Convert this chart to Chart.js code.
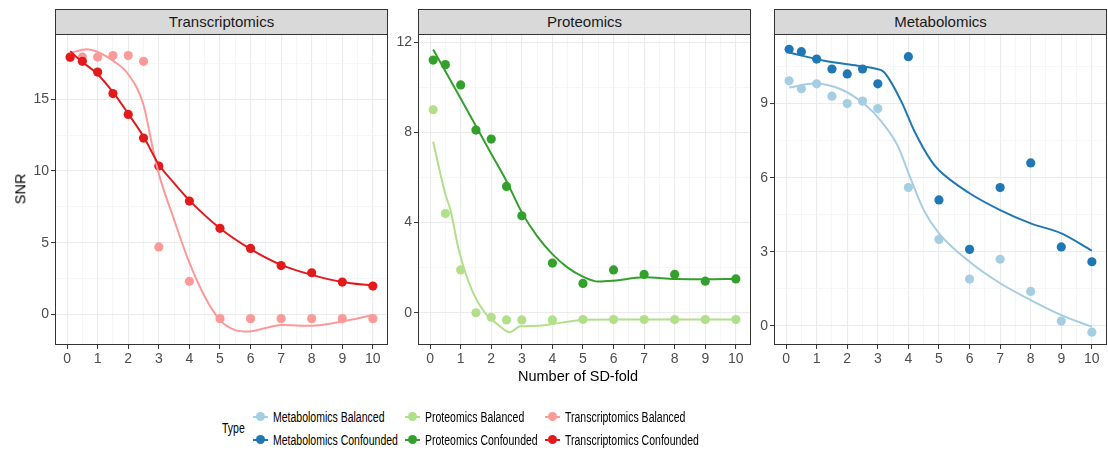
<!DOCTYPE html>
<html lang="en">
<head>
  <meta charset="UTF-8">
  <title>SNR by SD-fold</title>
  <script src="https://cdn.jsdelivr.net/npm/chart.js"></script>
  <style>
    body {
      margin: 0;
      width: 1108px;
      height: 450px;
      overflow: hidden;
      background: #fff;
      position: relative;
      font-family: "Liberation Sans", Arial, sans-serif;
    }
    canvas { position: absolute; }
    .strip {
      position: absolute;
      top: 9px;
      width: 333px;
      height: 26px;
      box-sizing: border-box;
      background: #D9D9D9;
      border: 1px solid #333;
      color: #1A1A1A;
      font-size: 15px;
      line-height: 24px;
      text-align: center;
    }
    .axis-title {
      position: absolute;
      color: #000;
      font-size: 14.5px;
      font-weight: normal;
      white-space: nowrap;
    }
    .legend {
      position: absolute;
      left: 0;
      top: 0;
      font-size: 14px;
      color: #000;
    }
    .legend .item {
      position: absolute;
      white-space: nowrap;
      line-height: 16px;
    }
    .legend .txt {
      display: inline-block;
      transform: scaleX(0.75);
      transform-origin: left center;
    }
    .legend .key {
      position: absolute;
      left: -20px;
      top: 7px;
      width: 15px;
      height: 2px;
    }
    .legend .key::after {
      content: "";
      position: absolute;
      left: 3px;
      top: -4px;
      width: 9px;
      height: 9px;
      border-radius: 50%;
      background: inherit;
    }
  </style>
</head>
<body>
  <div class="strip" style="left:55px">Transcriptomics</div>
  <div class="strip" style="left:418px">Proteomics</div>
  <div class="strip" style="left:774px">Metabolomics</div>

  <canvas id="panelT" width="388" height="351" style="left:10px; top:24px"></canvas>
  <canvas id="panelP" width="388" height="351" style="left:373px; top:24px"></canvas>
  <canvas id="panelM" width="388" height="351" style="left:729px; top:24px"></canvas>

  <div class="axis-title" style="left:5px; top:181px; transform: rotate(-90deg); transform-origin: center;">SNR</div>
  <div class="axis-title" style="left:518px; top:368px;">Number of SD-fold</div>

  <div class="legend" id="legend">
    <div class="item" style="left:222px; top:420px;"><span class="txt">Type</span></div>
  </div>

  <script>
    // points (x = SD-fold)
    const sdFold = [0.1, 0.5, 1, 1.5, 2, 2.5, 3, 4, 5, 6, 7, 8, 9, 10];

    const transBalanced   = [17.9, 17.95, 17.95, 18.05, 18.05, 17.65, 4.7, 2.3, -0.3, -0.3, -0.3, -0.3, -0.3, -0.3];
    const transConfounded = [17.95, 17.65, 16.9, 15.4, 13.95, 12.3, 10.35, 7.9, 6.0, 4.6, 3.4, 2.9, 2.25, 1.97];
    const protBalanced    = [9.0, 4.4, 1.9, 0.0, -0.2, -0.32, -0.32, -0.32, -0.3, -0.3, -0.3, -0.3, -0.3, -0.3];
    const protConfounded  = [11.2, 11.0, 10.1, 8.1, 7.7, 5.6, 4.3, 2.2, 1.3, 1.9, 1.7, 1.7, 1.4, 1.5];
    const metaBalanced    = [9.92, 9.6, 9.8, 9.3, 9.0, 9.1, 8.8, 5.6, 3.5, 1.9, 2.7, 1.4, 0.2, -0.25];
    const metaConfounded  = [11.2, 11.1, 10.8, 10.4, 10.2, 10.4, 9.8, 10.9, 5.1, 3.1, 5.6, 6.6, 3.2, 2.6];

    // smoothed curves
    const transBalSmoothX = [0.1, 0.65, 1, 1.5, 2, 2.5, 2.8, 3, 3.5, 4, 4.5, 5, 5.5, 5.9, 6.5, 7, 8, 9, 10];
    const transBalSmoothY = [18.25, 18.49, 18.3, 17.7, 16.75, 14.6, 11.6, 9.8, 6.6, 3.6, 1.25, -0.4, -1.1, -1.2, -0.95, -0.75, -0.8, -0.5, -0.05];
    const transConSmoothX = [0.1, 0.5, 1, 1.5, 2, 2.5, 3, 3.5, 4, 5, 6, 7, 8, 9, 10];
    const transConSmoothY = [18.35, 17.6, 16.75, 15.5, 14.0, 12.4, 10.45, 9.15, 7.95, 6.0, 4.55, 3.45, 2.75, 2.25, 2.0];

    const protBalSmoothX = [0.1, 0.5, 0.67, 0.94, 1.37, 1.81, 2.24, 2.6, 2.95, 3.5, 4, 5, 6, 7, 8, 9, 10];
    const protBalSmoothY = [7.58, 5.25, 4.54, 2.77, 1.0, -0.03, -0.54, -0.86, -0.6, -0.58, -0.5, -0.32, -0.3, -0.3, -0.3, -0.3, -0.3];
    const protConSmoothX = [0.1, 1, 2, 2.5, 3, 3.5, 4, 4.5, 5, 5.5, 6, 7, 8, 9, 10];
    const protConSmoothY = [11.67, 9.5, 7.05, 5.83, 4.45, 3.4, 2.6, 2.0, 1.6, 1.38, 1.42, 1.57, 1.5, 1.48, 1.5];

    const metaBalSmoothX = [0.1, 0.93, 1.79, 2.56, 3.1, 3.65, 4.0, 4.5, 5, 6, 7, 8, 9, 10];
    const metaBalSmoothY = [9.65, 9.81, 9.58, 8.98, 8.3, 7.3, 6.2, 4.7, 3.75, 2.6, 1.73, 1.05, 0.44, -0.03];
    const metaConSmoothX = [0.1, 1.25, 2.34, 2.9, 3.2, 3.76, 4.19, 4.74, 5, 6, 7, 8, 9, 10];
    const metaConSmoothY = [11.07, 10.73, 10.53, 10.42, 10.28, 9.11, 7.9, 6.69, 6.3, 5.37, 4.69, 4.15, 3.75, 3.05];

    // ticks
    const xMajor = [0, 1, 2, 3, 4, 5, 6, 7, 8, 9, 10];
    const xMinor = [0.5, 1.5, 2.5, 3.5, 4.5, 5.5, 6.5, 7.5, 8.5, 9.5];
    const yMajorT = [0, 5, 10, 15];
    const yMinorT = [2.5, 7.5, 12.5, 17.5];
    const yMajorP = [0, 4, 8, 12];
    const yMinorP = [2, 6, 10];
    const yMajorM = [0, 3, 6, 9];
    const yMinorM = [1.5, 4.5, 7.5, 10.5];

    const legendLabels = ["Metabolomics Balanced", "Metabolomics Confounded", "Proteomics Balanced",
                          "Proteomics Confounded", "Transcriptomics Balanced", "Transcriptomics Confounded"];
    const legendColors = ["#A6CEE3", "#1F78B4", "#B2DF8A", "#33A02C", "#FB9A99", "#E31A1C"];

    const tickFont = { family: "'Liberation Sans', Arial, sans-serif", size: 14 };

    const panelBorder = {
      id: 'panelBorder',
      afterDraw(chart) {
        const { ctx, chartArea: a } = chart;
        ctx.save();
        ctx.strokeStyle = '#333333';
        ctx.lineWidth = 1;
        ctx.strokeRect(Math.round(a.left) + 0.5, Math.round(a.top) + 0.5,
                       Math.round(a.right - a.left) - 1, Math.round(a.bottom - a.top) - 1);
        ctx.restore();
      }
    };

    function pts(xs, ys) {
      return xs.map((x, i) => ({ x: x, y: ys[i] }));
    }

    function axis(major, minor, min, max, isX) {
      const all = major.concat(minor).sort((a, b) => a - b);
      const isMaj = c => c.tick && major.includes(c.tick.value);
      return {
        type: 'linear',
        min: min,
        max: max,
        afterBuildTicks: s => { s.ticks = all.map(v => ({ value: v })); },
        afterFit: s => { if (isX) s.height = 30; else s.width = 45; },
        border: { display: false },
        grid: {
          color: c => isMaj(c) ? '#EBEBEB' : '#F4F4F4',
          lineWidth: c => isMaj(c) ? 1.1 : 0.8,
          tickColor: c => isMaj(c) ? '#333333' : 'rgba(0,0,0,0)',
          tickLength: 4,
          tickWidth: 1
        },
        ticks: {
          autoSkip: false,
          maxRotation: 0,
          padding: 2,
          color: '#4D4D4D',
          font: tickFont,
          callback: v => major.includes(v) ? String(v) : ''
        }
      };
    }

    function makePanel(id, balX, balY, conX, conY, balPts, conPts, colBal, colCon, yMin, yMax, yMaj, yMin2) {
      new Chart(document.getElementById(id), {
        type: 'line',
        data: {
          datasets: [
            { data: pts(conX, conY), borderColor: colCon, borderWidth: 2, pointRadius: 0,
              cubicInterpolationMode: 'monotone', fill: false },
            { data: pts(balX, balY), borderColor: colBal, borderWidth: 2, pointRadius: 0,
              cubicInterpolationMode: 'monotone', fill: false },
            { data: pts(sdFold, conPts), showLine: false, pointRadius: 4.6, pointBorderWidth: 0,
              pointBackgroundColor: colCon, borderColor: colCon },
            { data: pts(sdFold, balPts), showLine: false, pointRadius: 4.6, pointBorderWidth: 0,
              pointBackgroundColor: colBal, borderColor: colBal }
          ]
        },
        options: {
          responsive: false,
          animation: false,
          devicePixelRatio: 1,
          layout: { padding: { top: 10, right: 10, left: 0, bottom: 0 } },
          plugins: { legend: { display: false }, tooltip: { enabled: false } },
          scales: {
            x: axis(xMajor, xMinor, -0.395, 10.495, true),
            y: axis(yMaj, yMin2, yMin, yMax, false)
          }
        },
        plugins: [panelBorder]
      });
    }

    makePanel('panelT', transBalSmoothX, transBalSmoothY, transConSmoothX, transConSmoothY,
      transBalanced, transConfounded, legendColors[4], legendColors[5], -2.14, 19.53, yMajorT, yMinorT);
    makePanel('panelP', protBalSmoothX, protBalSmoothY, protConSmoothX, protConSmoothY,
      protBalanced, protConfounded, legendColors[2], legendColors[3], -1.43, 12.34, yMajorP, yMinorP);
    makePanel('panelM', metaBalSmoothX, metaBalSmoothY, metaConSmoothX, metaConSmoothY,
      metaBalanced, metaConfounded, legendColors[0], legendColors[1], -0.77, 11.8, yMajorM, yMinorM);

    // legend: 3 columns x 2 rows
    const legend = document.getElementById('legend');
    const colLeft = [273, 425, 565];
    const rowTop = [409, 432];
    legendLabels.forEach((lab, i) => {
      const el = document.createElement('div');
      el.className = 'item';
      el.style.left = colLeft[Math.floor(i / 2)] + 'px';
      el.style.top = rowTop[i % 2] + 'px';
      const key = document.createElement('span');
      key.className = 'key';
      key.style.background = legendColors[i];
      const txt = document.createElement('span');
      txt.className = 'txt';
      txt.textContent = lab;
      el.appendChild(key);
      el.appendChild(txt);
      legend.appendChild(el);
    });
  </script>
</body>
</html>
